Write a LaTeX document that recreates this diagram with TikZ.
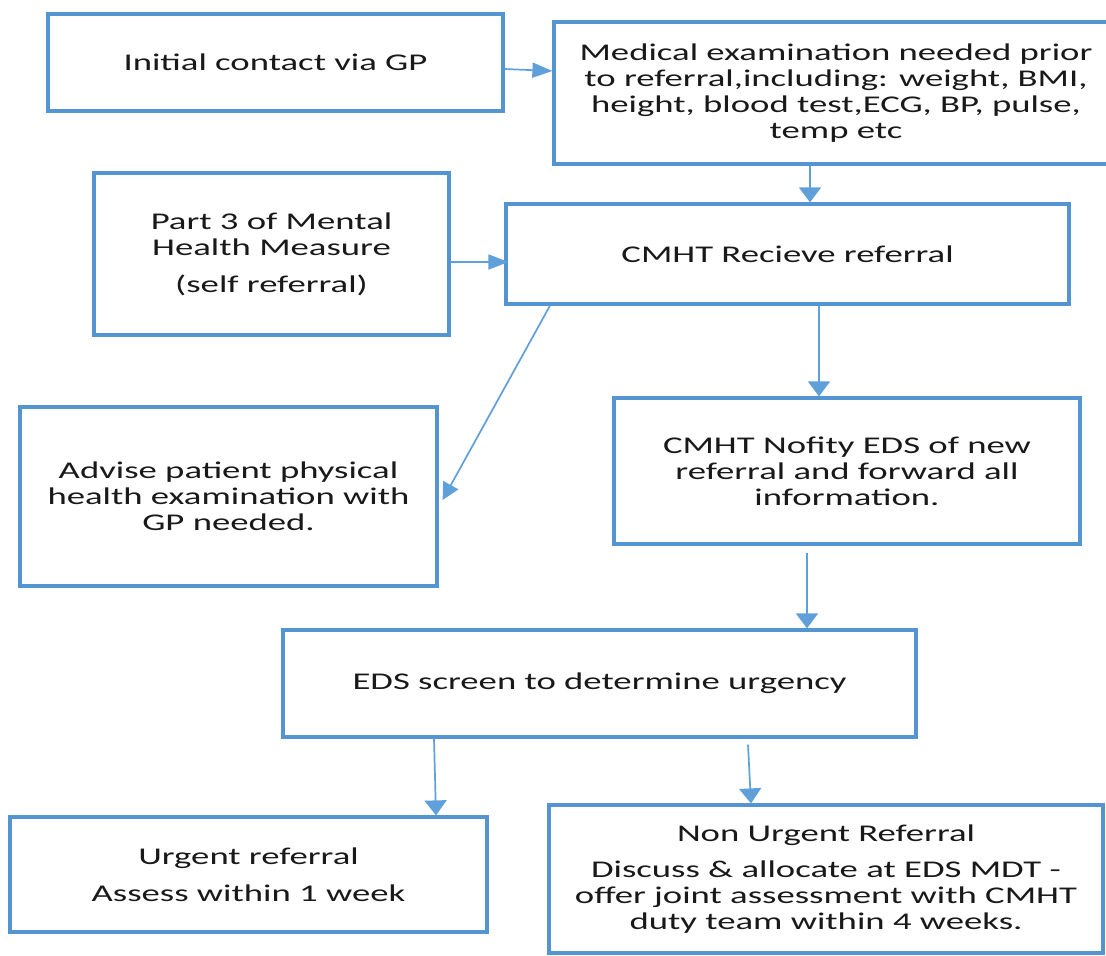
\documentclass[tikz,border=0pt]{standalone}
\usepackage{fontspec}
\setmainfont{Carlito}[FakeStretch=1.53]
\usetikzlibrary{arrows.meta}
\definecolor{boxblue}{RGB}{84,148,208}
\definecolor{arrblue}{RGB}{96,160,218}
\definecolor{txt}{RGB}{25,25,25}
\begin{document}
\begin{tikzpicture}[x=1pt,y=-1pt,
  box/.style={draw=boxblue,line width=3.2pt,inner sep=0pt,align=center,
    text=txt,font=\fontsize{24}{26}\selectfont},
  arr/.style={draw=arrblue,line width=1.7pt},
  vtip/.style={-{Triangle[length=15pt,width=22pt]}},
  htip/.style={-{Triangle[length=20pt,width=15pt]}},
  dtip/.style={-{Triangle[length=17pt,width=17pt]}}]
\clip (0,0) rectangle (1106,956);
\fill[white] (0,0) rectangle (1106,956);

\node[box,minimum width=455pt,minimum height=97pt] (box1) at (275.5,62.5) {Initial contact via GP};
\node[box,minimum width=564pt,minimum height=142pt] (box2) at (836,93)
  {Medical examination needed prior\\to referral,including: weight, BMI,\\height, blood test,ECG, BP, pulse,\\temp etc};
\node[box,minimum width=355pt,minimum height=162pt] (box3) at (271.5,254)
  {Part 3 of Mental\\Health Measure\\[11pt](self referral)};
\node[box,minimum width=563pt,minimum height=100pt] (box4) at (787.5,254) {CMHT Recieve referral};
\node[box,minimum width=417pt,minimum height=179pt] (box5) at (228.5,496.5)
  {Advise patient physical\\health examination with\\GP needed.};
\node[box,minimum width=466pt,minimum height=146pt] (box6) at (847,471)
  {CMHT Nofity EDS of new\\referral and forward all\\information.};
\node[box,minimum width=633pt,minimum height=107pt] (box7) at (599.5,683.5) {EDS screen to determine urgency};
\node[box,minimum width=477pt,minimum height=115pt] (box8) at (248.5,874.5)
  {Urgent referral\\[11pt]Assess within 1 week};
\node[box,minimum width=554pt,minimum height=148pt] (box9) at (826,879)
  {Non Urgent Referral\\[10pt]Discuss \& allocate at EDS MDT -\\offer joint assessment with CMHT\\duty team within 4 weeks.};

\draw[arr,htip] ([yshift=-6.5pt]box1.east) -- ([yshift=22pt]box2.west);
\draw[arr,vtip] ([xshift=-26pt]box2.south) -- ([xshift=22.5pt]box4.north);
\draw[arr,htip] ([yshift=-8pt]box3.east) -- ([xshift=4pt,yshift=-8pt]box4.west);
\draw[arr,vtip] ([xshift=31.5pt]box4.south) -- ([xshift=-28pt]box6.north);
\draw[arr,dtip] ([xshift=-237.5pt]box4.south) -- ([xshift=4pt,yshift=-3.5pt]box5.east);
\draw[arr,vtip] ([xshift=-40pt,yshift=-7pt]box6.south) -- ([xshift=207.5pt]box7.north);
\draw[arr,vtip] ([xshift=-165.5pt]box7.south) -- ([xshift=187.5pt]box8.north);
\draw[arr,vtip] ([xshift=148.5pt,yshift=-6pt]box7.south) -- ([xshift=-75pt]box9.north);
\end{tikzpicture}
\end{document}
